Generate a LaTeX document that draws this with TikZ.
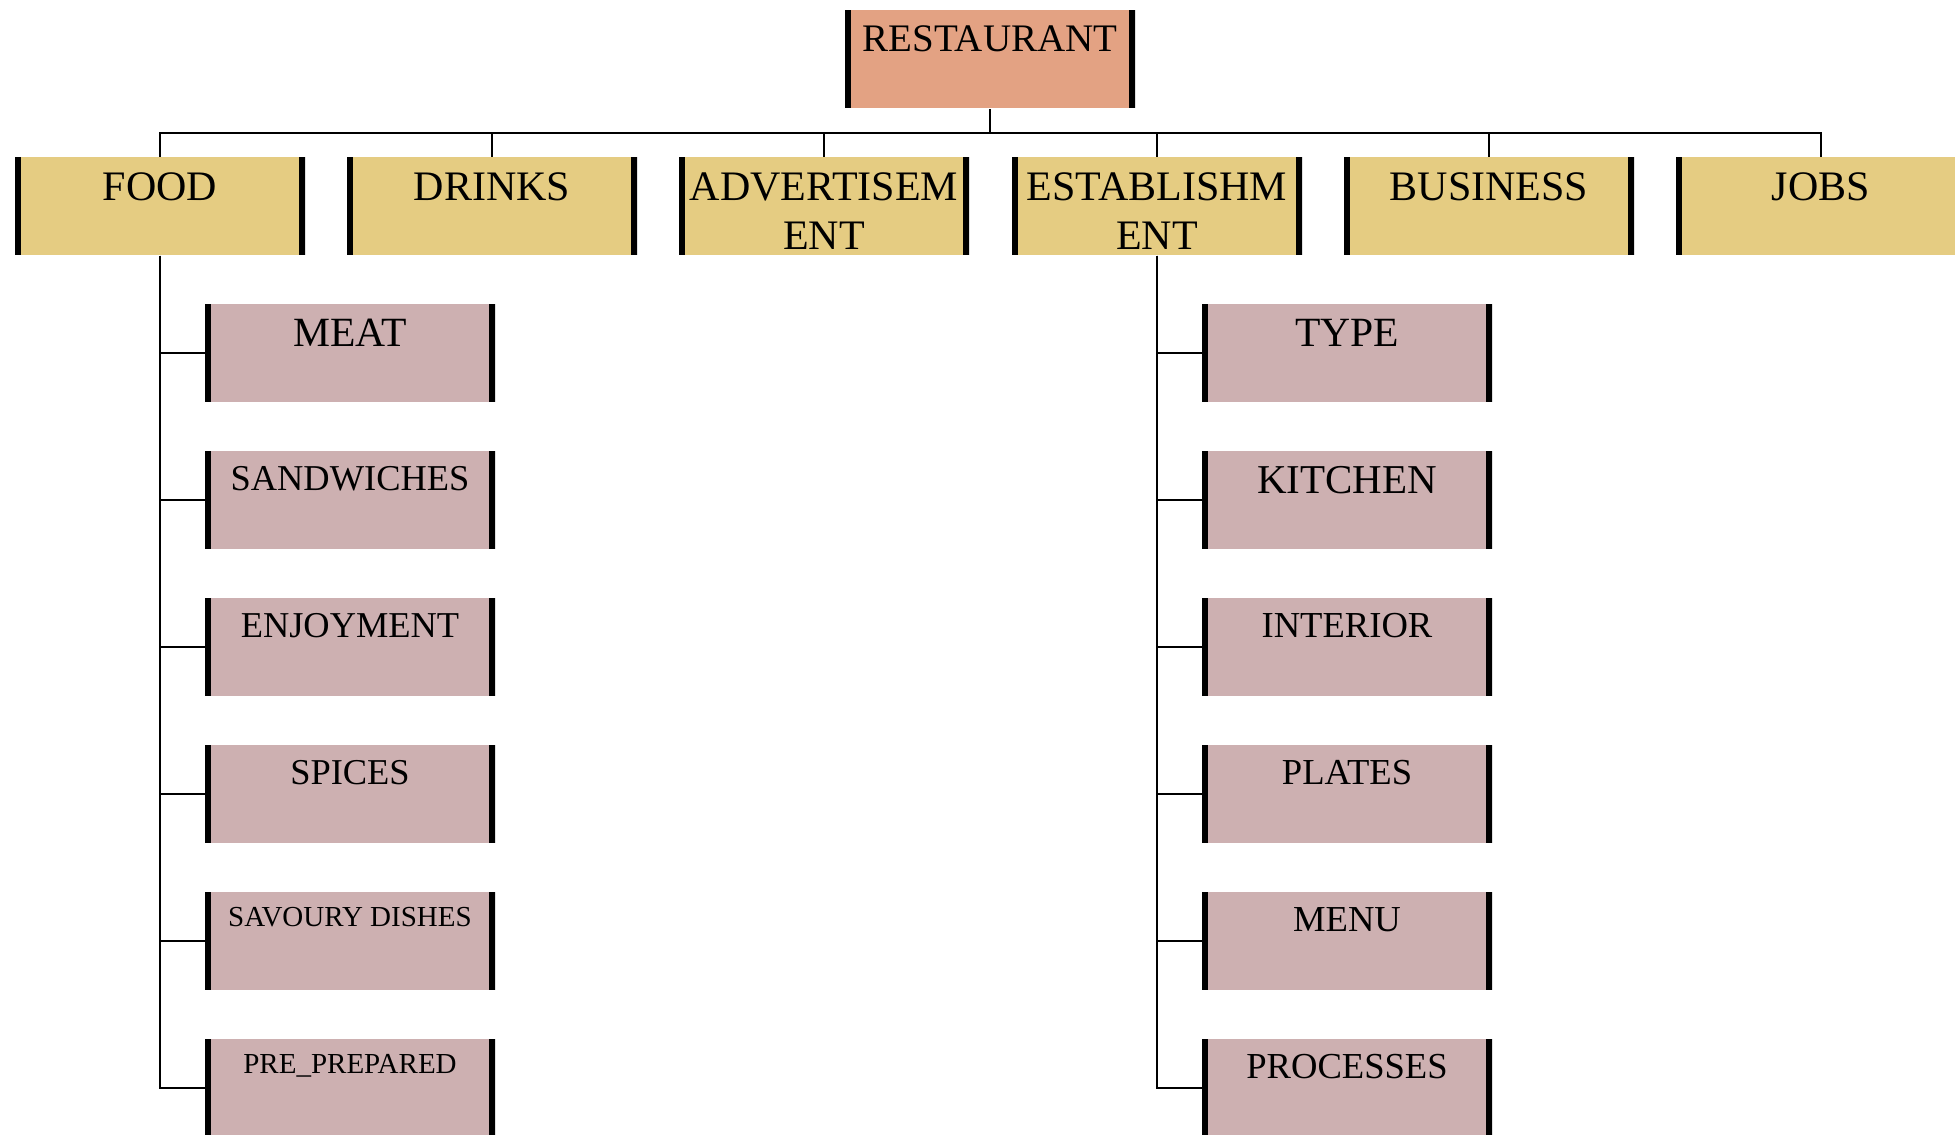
\documentclass[tikz,border=0pt]{standalone}
\usepackage{fontspec}
\setmainfont{Liberation Serif}
\definecolor{rootcol}{RGB}{227,162,131}
\definecolor{maincol}{RGB}{229,204,130}
\definecolor{subcol}{RGB}{205,176,177}

\tikzset{
  card/.style={anchor=north, minimum width=145pt, minimum height=49pt, inner sep=0pt,
    path picture={
      \draw[line width=6pt] (path picture bounding box.north west) -- (path picture bounding box.south west);
      \draw[line width=6pt] (path picture bounding box.north east) -- (path picture bounding box.south east);
    }},
  rootbox/.style={card, fill=rootcol},
  mainbox/.style={card, fill=maincol},
  subbox/.style={card, fill=subcol},
  txt/.style={anchor=north, inner sep=0pt, align=center, yshift=-7.5pt},
  link/.style={line width=1pt}
}

\begin{document}
\begin{tikzpicture}[x=0.5pt, y=-0.5pt]

  \clip (0,0) rectangle (1955,1135);

  % root
  \node[rootbox] (restaurant) at (990,10) {};
  \node[txt, font=\fontsize{19.5}{23}\selectfont] (trestaurant) at (restaurant.north) {RESTAURANT};

  % second row
  \foreach \n/\x/\t in {food/160/FOOD, drinks/492/DRINKS, advert/824/{ADVERTISEM\\ENT},
                        establ/1157/{ESTABLISHM\\ENT}, business/1489/BUSINESS, jobs/1821/JOBS} {
    \node[mainbox] (\n) at (\x,157) {};
    \node[txt, font=\fontsize{21}{24.5}\selectfont] (t\n) at (\n.north) {\t};
  }

  \coordinate (bus) at (990,133);
  \draw[link] (restaurant.south) -- (bus);
  \foreach \n in {food, drinks, advert, establ, business, jobs}
    \draw[link] (bus) -| (\n.north);

  % under FOOD
  \foreach \n/\t/\f [count=\k from 0] in {meat/MEAT/20.8, sandw/SANDWICHES/18.2, enjoy/ENJOYMENT/18.2,
                                         spices/SPICES/18.2, savoury/SAVOURY DISHES/14.5,
                                         prepared/PRE\_PREPARED/14.5} {
    \node[subbox] (\n) at (350,{304+147*\k}) {};
    \node[txt, font=\fontsize{\f}{\f}\selectfont] (t\n) at (\n.north) {\t};
    \draw[link] (food.south) |- (\n.west);
  }

  % under ESTABLISHMENT
  \foreach \n/\t/\f [count=\k from 0] in {type/TYPE/20.8, kitchen/KITCHEN/20.5, interior/INTERIOR/18.3,
                                         plates/PLATES/18.3, menu/MENU/18.3, processes/PROCESSES/18.3} {
    \node[subbox] (\n) at (1347,{304+147*\k}) {};
    \node[txt, font=\fontsize{\f}{\f}\selectfont] (t\n) at (\n.north) {\t};
    \draw[link] (establ.south) |- (\n.west);
  }

\end{tikzpicture}
\end{document}
